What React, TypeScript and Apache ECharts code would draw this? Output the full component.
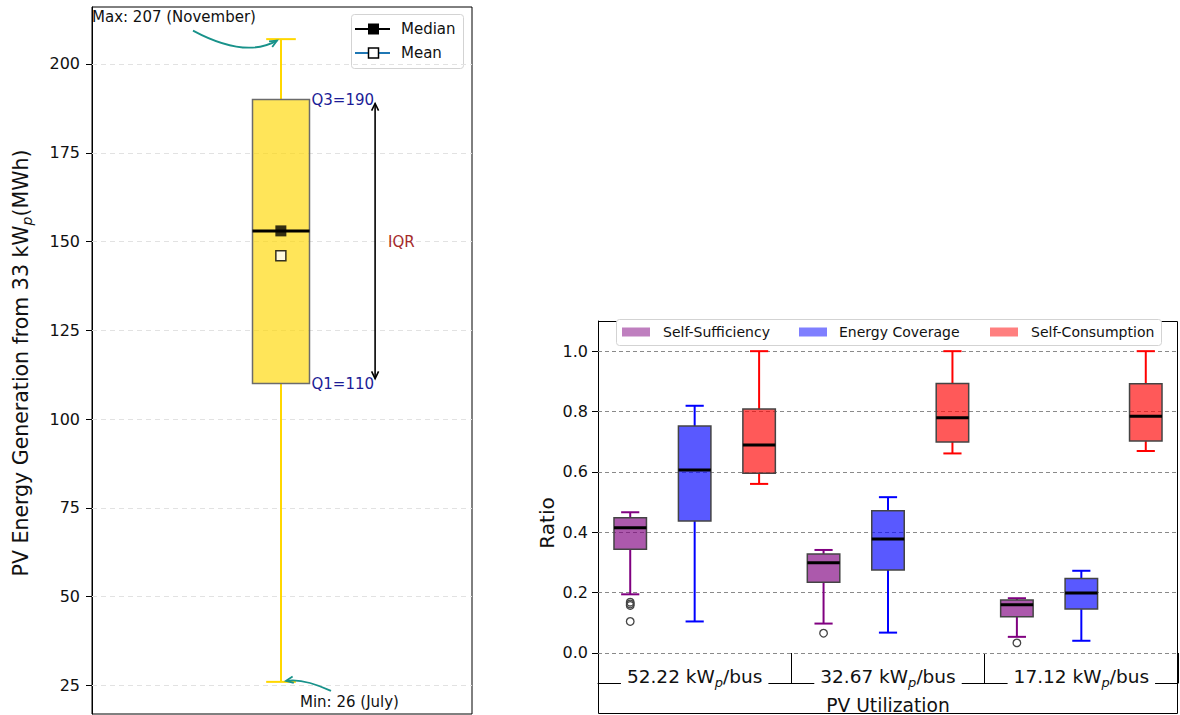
import React, { useEffect, useRef } from 'react';
import * as echarts from 'echarts';

// ---------- Left chart data (monthly PV generation, MWh) ----------
const pvTicks = [25, 50, 75, 100, 125, 150, 175, 200];
const pvAxisMin = 16.95;
const pvAxisMax = 216.05;
// [min, Q1, median, Q3, max]
const pvBox = [26, 110, 153, 190, 207];
const pvMean = 146;
const pvMaxMonth = 'November';
const pvMinMonth = 'July';

// ---------- Right chart data (ratios) ----------
const metricNames = ['Self-Sufficiency', 'Energy Coverage', 'Self-Consumption'];
const groupValues = ['52.22', '32.67', '17.12'];
const ratioTicks = [0, 0.2, 0.4, 0.6, 0.8, 1.0];
// per group: [lower whisker, Q1, median, Q3, upper whisker]
const selfSufficiency = [
  [0.194, 0.343, 0.415, 0.448, 0.466],
  [0.097, 0.234, 0.299, 0.328, 0.341],
  [0.053, 0.12, 0.159, 0.175, 0.181],
];
const energyCoverage = [
  [0.104, 0.437, 0.606, 0.752, 0.819],
  [0.067, 0.275, 0.377, 0.471, 0.516],
  [0.04, 0.145, 0.198, 0.246, 0.272],
];
const selfConsumption = [
  [0.56, 0.595, 0.689, 0.808, 1.0],
  [0.661, 0.699, 0.779, 0.893, 1.0],
  [0.669, 0.702, 0.784, 0.892, 1.0],
];
const selfSufficiencyOutliers = [[0.168, 0.162, 0.157, 0.104], [0.065], [0.033]];
const energyCoverageOutliers: number[][] = [[], [], []];
const selfConsumptionOutliers: number[][] = [[], [], []];

const FONT = 'DejaVu Sans';

function arrowHead(tip: number[], from: number[], len: number, spread: number) {
  const a = Math.atan2(tip[1] - from[1], tip[0] - from[0]);
  return [
    [tip[0] - len * Math.cos(a - spread), tip[1] - len * Math.sin(a - spread)],
    [tip[0], tip[1]],
    [tip[0] - len * Math.cos(a + spread), tip[1] - len * Math.sin(a + spread)],
  ];
}

export default function App() {
  const ref = useRef<HTMLDivElement>(null);

  useEffect(() => {
    const chart = echarts.init(ref.current!, null, { renderer: 'svg' });

    const metricFill = ['rgba(128,0,128,0.65)', 'rgba(0,0,255,0.65)', 'rgba(255,0,0,0.65)'];
    const metricLegend = ['rgba(128,0,128,0.5)', 'rgba(0,0,255,0.5)', 'rgba(255,0,0,0.5)'];
    const metricLine = ['#800080', '#0000ff', '#ff0000'];
    const metricData = [selfSufficiency, energyCoverage, selfConsumption];
    const metricOutliers = [selfSufficiencyOutliers, energyCoverageOutliers, selfConsumptionOutliers];

    const boxSeries: any[] = metricData.map((rows, k) => ({
      type: 'custom',
      name: metricNames[k],
      xAxisIndex: 1,
      yAxisIndex: 1,
      z: 3,
      data: rows.map((r, g) => [g, ...r]),
      renderItem: (params: any, api: any) => {
        const g = api.value(0);
        const band = api.size([1, 0])[0];
        const off = ((k - 1) * band) / 3;
        const half = band * 0.084;
        const capHalf = band * 0.047;
        const cx = api.coord([g, 0])[0] + off;
        const y = [1, 2, 3, 4, 5].map((i) => api.coord([g, api.value(i)])[1]);
        const [yLo, yQ1, yMed, yQ3, yHi] = y;
        const ws = { stroke: metricLine[k], lineWidth: 2 };
        return {
          type: 'group',
          children: [
            { type: 'line', shape: { x1: cx, y1: yQ3, x2: cx, y2: yHi }, style: ws },
            { type: 'line', shape: { x1: cx, y1: yQ1, x2: cx, y2: yLo }, style: ws },
            { type: 'line', shape: { x1: cx - capHalf, y1: yHi, x2: cx + capHalf, y2: yHi }, style: ws },
            { type: 'line', shape: { x1: cx - capHalf, y1: yLo, x2: cx + capHalf, y2: yLo }, style: ws },
            {
              type: 'rect',
              shape: { x: cx - half, y: yQ3, width: 2 * half, height: yQ1 - yQ3 },
              style: { fill: metricFill[k], stroke: '#444', lineWidth: 1.5 },
            },
            {
              type: 'line',
              shape: { x1: cx - half, y1: yMed, x2: cx + half, y2: yMed },
              style: { stroke: '#000', lineWidth: 3 },
            },
          ],
        };
      },
    }));
    boxSeries[0].markLine = {
      silent: true,
      z: 1,
      symbol: ['none', 'none'],
      label: { show: false },
      lineStyle: { color: '#8a8a8a', type: [4, 3], width: 1 },
      data: ratioTicks.map((v) => ({ yAxis: v })),
    };

    const outlierSeries = metricOutliers.map((groups, k) => ({
      type: 'custom',
      xAxisIndex: 1,
      yAxisIndex: 1,
      z: 3,
      data: groups.flatMap((vals, g) => vals.map((v) => [g, v])),
      renderItem: (params: any, api: any) => {
        const band = api.size([1, 0])[0];
        const p = api.coord([api.value(0), api.value(1)]);
        return {
          type: 'circle',
          shape: { cx: p[0] + ((k - 1) * band) / 3, cy: p[1], r: 3.8 },
          style: { fill: 'none', stroke: '#444', lineWidth: 1.3 },
        };
      },
    }));

    const groupLabelSeries = {
      type: 'custom',
      xAxisIndex: 1,
      yAxisIndex: 1,
      z: 4,
      data: groupValues.map((_, g) => [g]),
      renderItem: (params: any, api: any) => {
        const g = api.value(0);
        const p = api.coord([g, -0.08]);
        return {
          type: 'text',
          x: p[0],
          y: p[1],
          style: {
            text: `{a|${groupValues[g]} kW}{s|p}{a|/bus}`,
            align: 'center',
            verticalAlign: 'middle',
            backgroundColor: '#fff',
            padding: [1, 6, 1, 6],
            rich: {
              a: { fontSize: 18.5, fontFamily: FONT, fill: '#111', lineHeight: 24 },
              s: { fontSize: 13, fontFamily: FONT, fontStyle: 'italic', fill: '#111', lineHeight: 13, verticalAlign: 'bottom' },
            },
          },
        };
      },
    };

    const pvBoxSeries = {
      type: 'custom',
      xAxisIndex: 0,
      yAxisIndex: 0,
      z: 3,
      data: [[0.5, ...pvBox]],
      renderItem: (params: any, api: any) => {
        const x = api.value(0);
        const w = api.size([0.15, 0])[0];
        const capHalf = api.size([0.078, 0])[0] / 2;
        const y = [1, 2, 3, 4, 5].map((i) => api.coord([x, api.value(i)])[1]);
        const [yLo, yQ1, yMed, yQ3, yHi] = y;
        const cx = api.coord([x, 0])[0] - 1;
        const ws = { stroke: '#ffd700', lineWidth: 2 };
        return {
          type: 'group',
          children: [
            { type: 'line', shape: { x1: cx, y1: yQ3, x2: cx, y2: yHi }, style: ws },
            { type: 'line', shape: { x1: cx, y1: yQ1, x2: cx, y2: yLo }, style: ws },
            { type: 'line', shape: { x1: cx - capHalf, y1: yHi, x2: cx + capHalf, y2: yHi }, style: ws },
            { type: 'line', shape: { x1: cx - capHalf, y1: yLo, x2: cx + capHalf, y2: yLo }, style: ws },
            {
              type: 'rect',
              shape: { x: cx - w / 2, y: yQ3, width: w, height: yQ1 - yQ3 },
              style: { fill: 'rgba(255,215,0,0.65)', stroke: '#6b6b6b', lineWidth: 1.5 },
            },
            {
              type: 'line',
              shape: { x1: cx - w / 2, y1: yMed, x2: cx + w / 2, y2: yMed },
              style: { stroke: '#000', lineWidth: 3 },
            },
          ],
        };
      },
      markLine: {
        silent: true,
        z: 1,
        symbol: ['none', 'none'],
        label: { show: false },
        lineStyle: { color: '#e2e2e2', type: [5, 4], width: 1 },
        data: pvTicks.map((v) => ({ yAxis: v })),
      },
    };

    const pvAnnotationSeries = {
      type: 'custom',
      xAxisIndex: 0,
      yAxisIndex: 0,
      z: 5,
      data: [[0.5]],
      renderItem: (params: any, api: any) => {
        const x = api.value(0);
        const w = api.size([0.15, 0])[0];
        const cx = api.coord([x, 0])[0] - 1;
        const pQ1 = api.coord([x, pvBox[1]]);
        const pQ3 = api.coord([x, pvBox[3]]);
        const pHi = api.coord([x, pvBox[4]]);
        const pLo = api.coord([x, pvBox[0]]);
        const ax = api.coord([0.745, 0])[0];
        const teal = '#18928a';
        const qStyle = { fontSize: 15, fontFamily: FONT, fill: '#1c1c96', align: 'left', verticalAlign: 'middle' };
        // IQR arrow
        const top = [ax, pQ3[1] + 4];
        const bot = [ax, pQ1[1] - 5];
        // Max arrow
        const tipMax = [cx - 4, pHi[1] + 1.5];
        const startMax = [tipMax[0] - 84, tipMax[1] - 10];
        const ctrlMax = [tipMax[0] - 32, tipMax[1] + 18];
        // Min arrow
        const tipMin = [cx + 5, pLo[1] - 1];
        const startMin = [tipMin[0] + 45, tipMin[1] + 10];
        const ctrlMin = [tipMin[0] + 17, tipMin[1] - 3];
        return {
          type: 'group',
          children: [
            { type: 'text', x: cx + w / 2 + 2, y: pQ3[1], style: { ...qStyle, text: `Q3=${pvBox[3]}` } },
            { type: 'text', x: cx + w / 2 + 2, y: pQ1[1], style: { ...qStyle, text: `Q1=${pvBox[1]}` } },
            { type: 'line', shape: { x1: top[0], y1: top[1], x2: bot[0], y2: bot[1] }, style: { stroke: '#000', lineWidth: 1.6 } },
            { type: 'polyline', shape: { points: arrowHead(top, bot, 8, 0.45) }, style: { stroke: '#000', lineWidth: 1.6, fill: 'none' } },
            { type: 'polyline', shape: { points: arrowHead(bot, top, 8, 0.45) }, style: { stroke: '#000', lineWidth: 1.6, fill: 'none' } },
            {
              type: 'text',
              x: ax + 13,
              y: (pQ1[1] + pQ3[1]) / 2,
              style: { text: 'IQR', fontSize: 15, fontFamily: FONT, fill: '#a52a2a', align: 'left', verticalAlign: 'middle' },
            },
            {
              type: 'bezierCurve',
              shape: { x1: startMax[0], y1: startMax[1], x2: tipMax[0], y2: tipMax[1], cpx1: ctrlMax[0], cpy1: ctrlMax[1] },
              style: { stroke: teal, lineWidth: 1.8, fill: 'none' },
            },
            { type: 'polyline', shape: { points: arrowHead(tipMax, ctrlMax, 8, 0.42) }, style: { stroke: teal, lineWidth: 1.8, fill: 'none' } },
            {
              type: 'text',
              x: tipMax[0] - 185,
              y: tipMax[1] - 24,
              style: { text: `Max: ${pvBox[4]} (${pvMaxMonth})`, fontSize: 15, fontFamily: FONT, fill: '#111', align: 'left', verticalAlign: 'middle' },
            },
            {
              type: 'bezierCurve',
              shape: { x1: startMin[0], y1: startMin[1], x2: tipMin[0], y2: tipMin[1], cpx1: ctrlMin[0], cpy1: ctrlMin[1] },
              style: { stroke: teal, lineWidth: 1.8, fill: 'none' },
            },
            { type: 'polyline', shape: { points: arrowHead(tipMin, ctrlMin, 8, 0.42) }, style: { stroke: teal, lineWidth: 1.8, fill: 'none' } },
            {
              type: 'text',
              x: tipMin[0] + 14,
              y: tipMin[1] + 21,
              style: { text: `Min: ${pvBox[0]} (${pvMinMonth})`, fontSize: 15, fontFamily: FONT, fill: '#111', align: 'left', verticalAlign: 'middle' },
            },
          ],
        };
      },
    };

    const markerSeries = [
      {
        type: 'scatter',
        name: 'Median',
        xAxisIndex: 0,
        yAxisIndex: 0,
        z: 4,
        symbol: 'rect',
        symbolSize: 11,
        data: [[0.497, pvBox[2]]],
        itemStyle: { color: '#000' },
      },
      {
        type: 'scatter',
        name: 'Mean',
        xAxisIndex: 0,
        yAxisIndex: 0,
        z: 4,
        symbol: 'rect',
        symbolSize: 10,
        data: [[0.497, pvMean]],
        itemStyle: { color: '#fff', borderColor: '#000', borderWidth: 1.5 },
      },
    ];

    const legendPatchX = [622, 799, 990];
    const legendTextX = [663, 839, 1031];

    const graphics: any[] = [
      // right frame
      { type: 'rect', shape: { x: 598.5, y: 321.5, width: 579, height: 392 }, style: { fill: 'none', stroke: '#000', lineWidth: 1 } },
      // left legend
      { type: 'rect', shape: { x: 351.5, y: 14.5, width: 112, height: 54, r: 3 }, style: { fill: '#fff', stroke: '#d3d3d3', lineWidth: 1 } },
      { type: 'line', shape: { x1: 355, y1: 29, x2: 390, y2: 29 }, style: { stroke: '#000', lineWidth: 2 } },
      { type: 'rect', shape: { x: 368, y: 23.5, width: 11, height: 11 }, style: { fill: '#000' } },
      { type: 'text', x: 401, y: 29, style: { text: 'Median', fontSize: 15, fontFamily: FONT, fill: '#111', align: 'left', verticalAlign: 'middle' } },
      { type: 'line', shape: { x1: 355, y1: 53, x2: 390, y2: 53 }, style: { stroke: '#1f77b4', lineWidth: 2 } },
      { type: 'rect', shape: { x: 368.5, y: 48, width: 10, height: 10 }, style: { fill: '#fff', stroke: '#000', lineWidth: 1.5 } },
      { type: 'text', x: 401, y: 53, style: { text: 'Mean', fontSize: 15, fontFamily: FONT, fill: '#111', align: 'left', verticalAlign: 'middle' } },
      // left y label
      {
        type: 'text',
        x: 21,
        y: 363,
        rotation: Math.PI / 2,
        style: {
          text: '{a|PV Energy Generation from 33 kW}{s|p}{a|(MWh)}',
          align: 'center',
          verticalAlign: 'middle',
          rich: {
            a: { fontSize: 20.5, fontFamily: FONT, fill: '#111', lineHeight: 26 },
            s: { fontSize: 14, fontFamily: FONT, fontStyle: 'italic', fill: '#111', lineHeight: 14, verticalAlign: 'bottom' },
          },
        },
      },
      // right legend
      { type: 'rect', shape: { x: 616.5, y: 319.5, width: 545, height: 26, r: 3 }, style: { fill: '#fff', stroke: '#d3d3d3', lineWidth: 1 } },
      ...metricNames.flatMap((name, k) => [
        { type: 'rect', shape: { x: legendPatchX[k], y: 327.5, width: 28, height: 9 }, style: { fill: metricLegend[k] } },
        { type: 'text', x: legendTextX[k], y: 332, style: { text: name, fontSize: 14, fontFamily: FONT, fill: '#111', align: 'left', verticalAlign: 'middle' } },
      ]),
      // right axis labels
      {
        type: 'text',
        x: 547,
        y: 523,
        rotation: Math.PI / 2,
        style: { text: 'Ratio', fontSize: 20, fontFamily: FONT, fill: '#111', align: 'center', verticalAlign: 'middle' },
      },
      {
        type: 'text',
        x: 888,
        y: 705,
        style: { text: 'PV Utilization', fontSize: 18.7, fontFamily: FONT, fill: '#111', align: 'center', verticalAlign: 'middle' },
      },
    ];

    const option: any = {
      animation: false,
      backgroundColor: '#fff',
      textStyle: { fontFamily: FONT },
      grid: [
        { left: 92, top: 7, width: 380, height: 707, show: true, borderColor: '#000', borderWidth: 1, backgroundColor: 'transparent' },
        { left: 598, top: 321, width: 580, height: 362, show: false },
      ],
      xAxis: [
        { type: 'value', gridIndex: 0, min: 0, max: 1, show: false },
        {
          type: 'category',
          gridIndex: 1,
          data: groupValues,
          boundaryGap: true,
          axisLine: { show: true, onZero: false, lineStyle: { color: '#000', width: 1 } },
          axisTick: { show: true, inside: true, length: 30, lineStyle: { color: '#000', width: 1 } },
          axisLabel: { show: false },
          splitLine: { show: false },
        },
      ],
      yAxis: [
        {
          type: 'value',
          gridIndex: 0,
          min: pvAxisMin,
          max: pvAxisMax,
          axisLine: { show: true, onZero: false, lineStyle: { color: '#000', width: 1 } },
          axisTick: { show: true, customValues: pvTicks, length: 6, lineStyle: { color: '#000', width: 1 } },
          axisLabel: { customValues: pvTicks, fontSize: 16, color: '#111', margin: 12, fontFamily: FONT },
          splitLine: { show: false },
        },
        {
          type: 'value',
          gridIndex: 1,
          min: -0.1,
          max: 1.1,
          axisLine: { show: true, onZero: false, lineStyle: { color: '#000', width: 1 } },
          axisTick: { show: true, customValues: ratioTicks, length: 6, lineStyle: { color: '#000', width: 1 } },
          axisLabel: {
            customValues: ratioTicks,
            formatter: (v: number) => v.toFixed(1),
            fontSize: 16,
            color: '#111',
            margin: 10,
            fontFamily: FONT,
          },
          splitLine: { show: false },
        },
      ],
      series: [pvBoxSeries, ...markerSeries, pvAnnotationSeries, ...boxSeries, ...outlierSeries, groupLabelSeries],
      graphic: { elements: graphics },
    };

    chart.setOption(option);
    return () => chart.dispose();
  }, []);

  return <div ref={ref} style={{ position: 'absolute', left: 0, top: 0, width: 1180, height: 715 }} />;
}
